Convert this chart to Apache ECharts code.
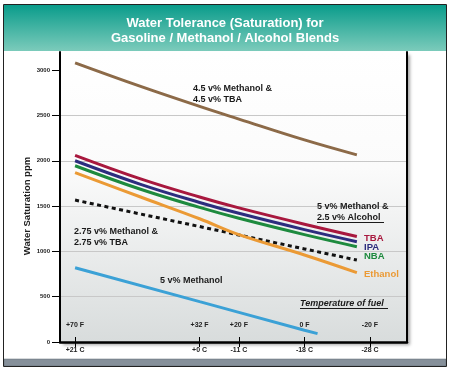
<!DOCTYPE html>
<html><head><meta charset="utf-8">
<script src="https://cdn.jsdelivr.net/npm/echarts@6/dist/echarts.min.js"></script>
<style>html,body{margin:0;padding:0;background:#fff}#c{width:450px;height:369px}</style>
</head><body><div id="c"></div>
<script>
// Tick positions (deg F) and labels
const tempTicksF = [70, 32, 20, 0, -20];
const tickLabelsC = ['+21 C', '+0 C', '-11 C', '-18 C', '-28 C'];
const tickLabelsF = ['+70 F', '+32 F', '+20 F', '0 F', '-20 F'];
const yTicks = [0, 500, 1000, 1500, 2000, 2500, 3000];

// Data (temperature in deg F, water saturation in ppm)
const tempF = [70, 50, 32, 20, 0, -16];
const tempFMethanol5 = [70, 32, 20, 0, -4];
const meth45Tba45 = [3080, 2820, 2600, 2460, 2230, 2065];
const tba = [2060, 1800, 1600, 1480, 1300, 1165];
const ipa = [2000, 1740, 1540, 1420, 1240, 1107];
const nba = [1945, 1685, 1485, 1365, 1185, 1052];
const ethanol = [1868, 1600, 1360, 1185, 960, 765];
const meth275Tba275 = [1566, 1412, 1274, 1181, 1027, 904];
const meth5 = [820, 445, 327, 130, 92];

const FONT = '"Liberation Sans", Arial, sans-serif';
const zip = (xs, ys) => xs.map((x, i) => [x, ys[i]]);

const chart = echarts.init(document.getElementById('c'), null, {renderer: 'canvas'});

function lineSeries(name, xs, ys, color, opts) {
  return Object.assign({
    name, type: 'line', data: zip(xs, ys), showSymbol: false, symbol: 'none',
    smooth: 0.4,
    lineStyle: {color, width: 3, cap: 'butt'}, itemStyle: {color},
    xAxisIndex: 0, yAxisIndex: 0, silent: true, animation: false
  }, opts || {});
}

const txt = (text, x, y, fill, size, extra) => ({
  type: 'text', z: 50, silent: true,
  style: Object.assign({text, x, y, fill, font: 'bold ' + size + 'px ' + FONT, align: 'left', verticalAlign: 'middle'}, extra || {})
});

const titleShadow = {shadowColor: 'rgba(0,50,40,0.6)', shadowBlur: 1, shadowOffsetX: 0.5, shadowOffsetY: 0.5, align: 'center'};

const xRange = {min: -31.3, max: 74.6};

chart.setOption({
  animation: false,
  backgroundColor: '#ffffff',
  grid: {
    left: 60, right: 43, top: 52, bottom: 27,
    show: true, borderWidth: 0,
    backgroundColor: {
      type: 'linear', x: 0, y: 0, x2: 0, y2: 1,
      colorStops: [{offset: 0, color: '#ffffff'}, {offset: 0.4, color: '#fbfbfb'}, {offset: 1, color: '#d8dcdc'}]
    },
    shadowColor: 'rgba(0,0,0,0.35)', shadowBlur: 3, shadowOffsetX: 3, shadowOffsetY: 3
  },
  xAxis: [
    {
      type: 'value', min: xRange.min, max: xRange.max, inverse: true, position: 'bottom',
      axisLine: {show: true, onZero: false, lineStyle: {color: '#000', width: 2.5}},
      axisTick: {show: true, customValues: tempTicksF, length: 5, inside: false, lineStyle: {color: '#000', width: 1}},
      axisLabel: {
        show: true, customValues: tempTicksF, margin: 5,
        formatter: v => { const i = tempTicksF.indexOf(v); return i >= 0 ? tickLabelsC[i] : ''; },
        color: '#222', fontFamily: FONT, fontWeight: 'bold', fontSize: 7
      },
      splitLine: {show: false}
    },
    {
      type: 'value', min: xRange.min, max: xRange.max, inverse: true, position: 'bottom',
      axisLine: {show: false, onZero: false},
      axisTick: {show: true, customValues: tempTicksF, length: 5, inside: true, lineStyle: {color: '#000', width: 1}},
      axisLabel: {
        show: true, inside: true, customValues: tempTicksF, margin: 13,
        formatter: v => { const i = tempTicksF.indexOf(v); return i >= 0 ? tickLabelsF[i] : ''; },
        color: '#222', fontFamily: FONT, fontWeight: 'bold', fontSize: 7
      },
      splitLine: {show: false}
    }
  ],
  yAxis: [
    {
      type: 'value', min: 0, max: 3200, interval: 500, position: 'left',
      axisLine: {show: true, onZero: false, lineStyle: {color: '#000', width: 2}},
      axisTick: {show: true, customValues: yTicks, length: 8, inside: false, lineStyle: {color: '#000', width: 1}},
      axisLabel: {show: true, customValues: yTicks, margin: 10, formatter: v => String(v),
        color: '#222', fontFamily: FONT, fontWeight: 'bold', fontSize: 6},
      splitLine: {show: true, showMaxLine: false, showMinLine: false, lineStyle: {color: '#c8c8c8', width: 1}}
    },
    {
      type: 'value', min: 0, max: 3200, interval: 500, position: 'right',
      axisLine: {show: true, onZero: false, lineStyle: {color: '#000', width: 2}},
      axisTick: {show: false}, axisLabel: {show: false}, splitLine: {show: false}
    }
  ],
  series: [
    lineSeries('4.5 v% Methanol & 4.5 v% TBA', tempF, meth45Tba45, '#8c6a48'),
    lineSeries('2.75 v% Methanol & 2.75 v% TBA', tempF, meth275Tba275, '#111111',
      {smooth: false, lineStyle: {color: '#111111', width: 3, type: [4, 3.5], cap: 'butt'}}),
    lineSeries('Ethanol', tempF, ethanol, '#eb9a35'),
    lineSeries('NBA', tempF, nba, '#1d8a3e'),
    lineSeries('IPA', tempF, ipa, '#2c2d7e'),
    lineSeries('TBA', tempF, tba, '#a8183e'),
    lineSeries('5 v% Methanol', tempFMethanol5, meth5, '#3ba1d6', {smooth: false})
  ],
  graphic: [
    // title band
    {type: 'rect', z: 1, silent: true, shape: {x: 4, y: 5, width: 442, height: 46},
      style: {fill: {type: 'linear', x: 0, y: 0, x2: 0, y2: 1,
        colorStops: [{offset: 0, color: '#0a9c8b'}, {offset: 1, color: '#7ccbbb'}]}}},
    txt('Water Tolerance (Saturation) for', 225, 23.5, '#ffffff', 13, titleShadow),
    txt('Gasoline / Methanol / Alcohol Blends', 225, 38.5, '#ffffff', 13, titleShadow),
    // y axis title
    {type: 'text', z: 50, silent: true, x: 27.5, y: 206, rotation: Math.PI / 2,
      style: {text: 'Water Saturation ppm', x: 0, y: 0, fill: '#222', font: 'bold 9.5px ' + FONT, align: 'center', verticalAlign: 'middle'}},
    // bottom band
    {type: 'rect', z: 1, silent: true, shape: {x: 4, y: 359, width: 442, height: 7},
      style: {fill: '#86909a', stroke: '#5f6870', lineWidth: 0.5}},
    // outer frame
    {type: 'rect', z: 70, silent: true, shape: {x: 3.5, y: 4.5, width: 443, height: 362},
      style: {fill: null, stroke: '#222', lineWidth: 1}},
    // annotations
    txt('4.5 v% Methanol &', 193, 89, '#1a1a1a', 9),
    txt('4.5 v% TBA', 193, 100, '#1a1a1a', 9),
    txt('5 v% Methanol &', 317, 206.7, '#1a1a1a', 9),
    txt('2.5 v% Alcohol', 317, 217.7, '#1a1a1a', 9),
    {type: 'line', z: 50, silent: true, shape: {x1: 317, y1: 222.5, x2: 384, y2: 222.5}, style: {stroke: '#1a1a1a', lineWidth: 1}},
    txt('TBA', 364, 238.7, '#a8183e', 9.5),
    txt('IPA', 364, 247.7, '#2c2d7e', 9.5),
    txt('NBA', 364, 256.7, '#1d8a3e', 9.5),
    txt('Ethanol', 364, 274.7, '#eb9a35', 9.5),
    txt('2.75 v% Methanol &', 74, 231.7, '#1a1a1a', 9),
    txt('2.75 v% TBA', 74, 242.7, '#1a1a1a', 9),
    txt('5 v% Methanol', 160, 280.7, '#1a1a1a', 9),
    txt('Temperature of fuel', 300, 304, '#1a1a1a', 9, {font: 'italic bold 9px ' + FONT}),
    {type: 'line', z: 50, silent: true, shape: {x1: 300, y1: 308.5, x2: 388, y2: 308.5}, style: {stroke: '#1a1a1a', lineWidth: 1}}
  ]
});
</script>
</body></html>
